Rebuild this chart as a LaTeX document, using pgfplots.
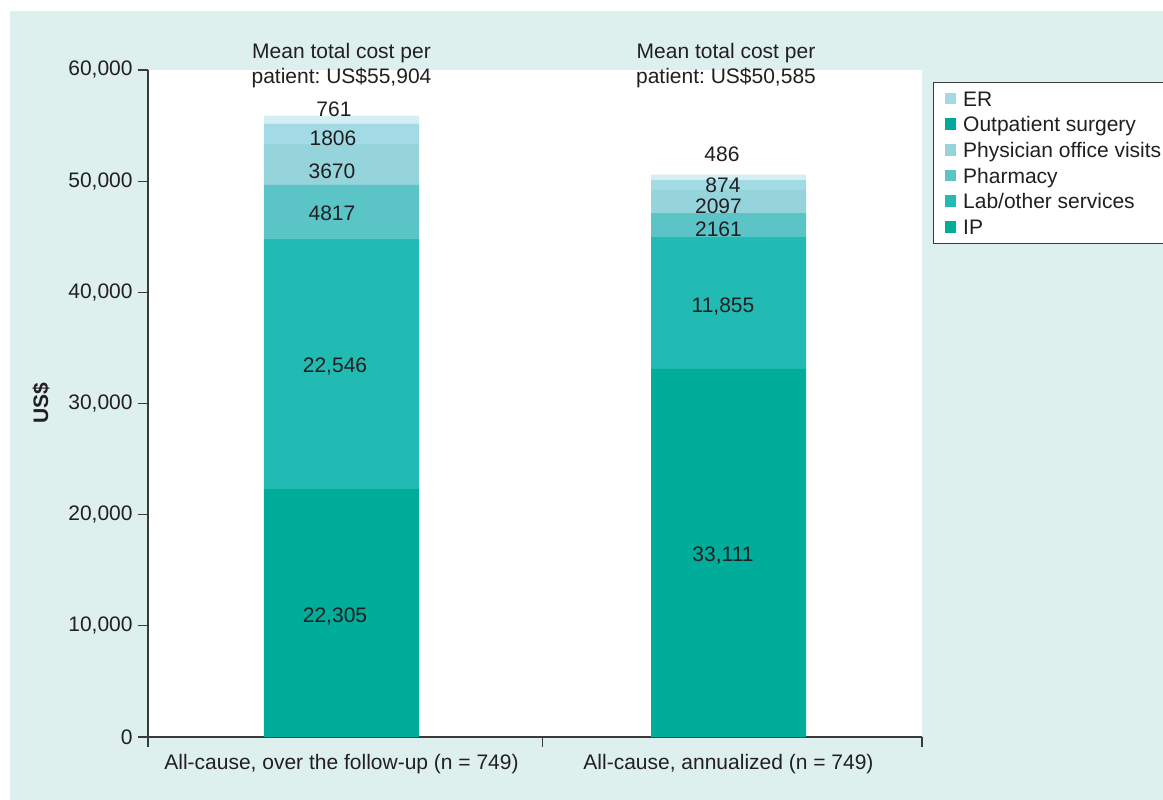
\documentclass[border=0pt]{standalone}
\usepackage{pgfplots}
\pgfplotsset{compat=1.18}
\usepackage{fontspec}
\setmainfont{Liberation Sans}
\frenchspacing

\definecolor{mint}{HTML}{DDF0EE}
\definecolor{cIP}{HTML}{00AC9A}
\definecolor{cLab}{HTML}{21BBB4}
\definecolor{cPha}{HTML}{5AC4C6}
\definecolor{cPhy}{HTML}{96D4DC}
\definecolor{cOut}{HTML}{A2DAE5}
\definecolor{cER}{HTML}{D4EEF2}
\definecolor{cOutLeg}{HTML}{00A99A}
\definecolor{txt}{HTML}{231F20}
\definecolor{axc}{HTML}{3A3A3A}

\newcommand{\chfont}{\fontsize{10.5}{12.6}\selectfont}
\pgfplotsset{legsq/.style={legend image code/.code={\fill[##1] (0pt,-2.6pt) rectangle (5.8pt,3.2pt);}}}

\begin{document}
\begin{tikzpicture}[font=\chfont, text=txt]
\fill[mint] (-69pt,-40pt) rectangle (520pt,363pt);
\begin{axis}[
  at={(0,0)}, anchor=south west,
  scale only axis, width=387pt, height=333.5pt,
  xmin=-0.5, xmax=1.5, ymin=0, ymax=60000,
  ybar stacked, bar width=77.5pt,
  clip=false,
  axis background/.style={fill=white},
  axis x line*=bottom, axis y line*=left,
  axis line style={color=axc, line width=0.75pt},
  tick align=outside, major tick length=5pt,
  tick style={color=axc, line width=0.6pt},
  ytick={0,10000,20000,30000,40000,50000,60000},
  yticklabels={0,{10,000},{20,000},{30,000},{40,000},{50,000},{60,000}},
  scaled y ticks=false,
  every tick label/.append style={font=\chfont, text=txt},
  yticklabel style={font=\chfont, text=txt, inner xsep=2.5pt},
  xticklabel style={font=\chfont, text=txt},
  xtick={-0.5,0.52,1.5}, xticklabels={},
  extra x ticks={0,1},
  extra x tick labels={{All-cause, over the follow-up (n = 749)},{All-cause, annualized (n = 749)}},
  extra x tick style={tick style={draw=none}},
  legend style={at={(1.0142,0.982)}, anchor=north west, draw=axc, line width=0.6pt,
    fill=white, inner xsep=5.5pt, inner ysep=1.8pt, row sep=0pt, column sep=3.5pt,
    font=\chfont, text=txt,
    nodes={inner sep=0pt, text height=10pt, text depth=2.83pt}},
  legend cell align=left,
]
\addlegendimage{legsq, fill=cOut, draw=none}
\addlegendentry{ER}
\addlegendimage{legsq, fill=cOutLeg, draw=none}
\addlegendentry{Outpatient surgery}
\addlegendimage{legsq, fill=cPhy, draw=none}
\addlegendentry{Physician office visits}
\addlegendimage{legsq, fill=cPha, draw=none}
\addlegendentry{Pharmacy}
\addlegendimage{legsq, fill=cLab, draw=none}
\addlegendentry{Lab/other services}
\addlegendimage{legsq, fill=cIP, draw=none}
\addlegendentry{IP}

\addplot[fill=cIP, draw=none] coordinates {(0,22305) (1,33111)};
\addplot[fill=cLab, draw=none] coordinates {(0,22546) (1,11855)};
\addplot[fill=cPha, draw=none] coordinates {(0,4817) (1,2161)};
\addplot[fill=cPhy, draw=none] coordinates {(0,3670) (1,2097)};
\addplot[fill=cOut, draw=none] coordinates {(0,1806) (1,874)};
\addplot[fill=cER, draw=none] coordinates {(0,761) (1,486)};

\coordinate (a1) at (axis cs:0,55800);
\coordinate (a2) at (axis cs:0,53253);
\coordinate (a3) at (axis cs:0,50258);
\coordinate (a4) at (axis cs:0,46417);
\coordinate (a5) at (axis cs:0,32789);
\coordinate (a6) at (axis cs:0,10300);
\coordinate (b1) at (axis cs:1,51814);
\coordinate (b2) at (axis cs:1,48936);
\coordinate (b3) at (axis cs:1,47136);
\coordinate (b4) at (axis cs:1,45005);
\coordinate (b5) at (axis cs:1,38186);
\coordinate (b6) at (axis cs:1,15787);
\coordinate (t1) at (axis cs:0,60000);
\coordinate (t2) at (axis cs:1,60000);
\end{axis}
% value labels (drawn on top of the bars)
\node[anchor=base, xshift=-3.75pt] at (a1) {761};
\node[anchor=base, xshift=-4.25pt] at (a2) {1806};
\node[anchor=base, xshift=-4.75pt] at (a3) {3670};
\node[anchor=base, xshift=-4.75pt] at (a4) {4817};
\node[anchor=base, xshift=-3.25pt] at (a5) {22,546};
\node[anchor=base, xshift=-3.25pt] at (a6) {22,305};
\node[anchor=base, xshift=-3.25pt] at (b1) {486};
\node[anchor=base, xshift=-2.75pt] at (b2) {874};
\node[anchor=base, xshift=-5pt] at (b3) {2097};
\node[anchor=base, xshift=-5pt] at (b4) {2161};
\node[anchor=base, xshift=-2.75pt] at (b5) {11,855};
\node[anchor=base, xshift=-2.75pt] at (b6) {33,111};
% titles
\node[anchor=base, yshift=5.5pt] at (t1) {Mean total cost per};
\node[anchor=base, yshift=-7pt] at (t1) {patient: US\$55,904};
\node[anchor=base, yshift=5.5pt, xshift=-1.25pt] at (t2) {Mean total cost per};
\node[anchor=base, yshift=-7pt, xshift=-1.25pt] at (t2) {patient: US\$50,585};
\node[rotate=90, font=\chfont\bfseries] at (-53.5pt,166.75pt) {US\$};
\pgfresetboundingbox
\useasboundingbox (-74pt,-31pt) rectangle (507.5pt,368.5pt);
\end{tikzpicture}
\end{document}
